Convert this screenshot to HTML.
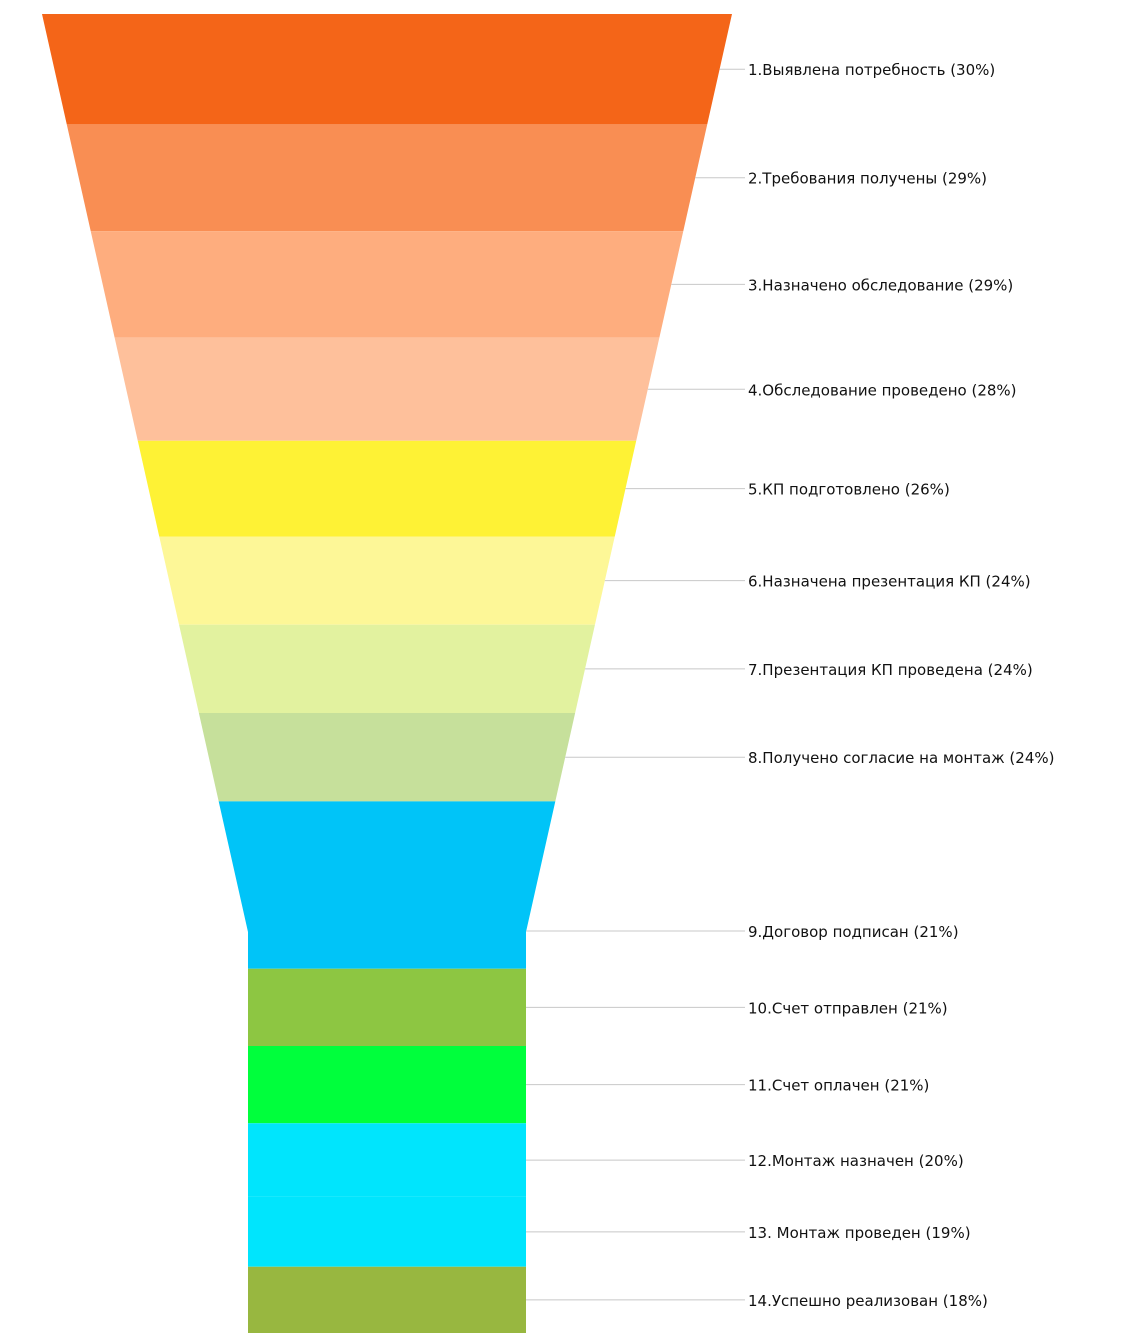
<!DOCTYPE html>
<html><head><meta charset="utf-8"><style>
html,body{margin:0;padding:0;background:#fff;}
svg{display:block;}
text{font-family:"DejaVu Sans","Liberation Sans",sans-serif;font-size:15px;fill:#111;}
</style></head><body>
<svg id="chart" width="1128" height="1342" xmlns="http://www.w3.org/2000/svg"></svg>
<script>
const stages = ["1.Выявлена потребность","2.Требования получены","3.Назначено обследование","4.Обследование проведено","5.КП подготовлено","6.Назначена презентация КП","7.Презентация КП проведена","8.Получено согласие на монтаж","9.Договор подписан","10.Счет отправлен","11.Счет оплачен","12.Монтаж назначен","13. Монтаж проведен","14.Успешно реализован"];
const percents = [30,29,29,28,26,24,24,24,21,21,21,20,19,18];
const values = [30,29,29,28,26,24,24,24,45.5,21,21,20,19,18];
const colors = ["#F46518","#F98E53","#FEAD7E","#FEC09B","#FEF235","#FDF797","#E2F29F","#C6E09B","#00C4F8","#8DC642","#00FF3C","#00E5FD","#00E5FD","#98B740"];

const NS="http://www.w3.org/2000/svg";
const svg=document.getElementById('chart');
const top0=14, bottom0=1333, topL=42, topR=732, neckL=248, neckR=526, neckY=932;
const total=values.reduce((a,b)=>a+b,0);
const yScale=v=>v/total*(bottom0-top0);
function leftAt(y){return y>=neckY?neckL:topL+(neckL-topL)*(y-top0)/(neckY-top0);}
function rightAt(y){return y>=neckY?neckR:topR-(topR-neckR)*(y-top0)/(neckY-top0);}
let y=top0;
values.forEach((v,i)=>{
  const y0=y, y1=y+yScale(v);
  let pts=[[leftAt(y0),y0],[rightAt(y0),y0]];
  if(y0<neckY&&y1>neckY){pts.push([neckR,neckY],[neckR,y1],[neckL,y1],[neckL,neckY]);}
  else pts.push([rightAt(y1),y1],[leftAt(y1),y1]);
  const p=document.createElementNS(NS,'polygon');
  p.setAttribute('points',pts.map(q=>q.join(',')).join(' '));
  p.setAttribute('fill',colors[i]);
  
  
  svg.appendChild(p);
  let ly=(y0+y1)/2;
  if(y0<neckY&&y1>neckY) ly=neckY-1;
  const ln=document.createElementNS(NS,'line');
  ln.setAttribute('x1',rightAt(ly));ln.setAttribute('x2',745);
  ln.setAttribute('y1',ly);ln.setAttribute('y2',ly);
  ln.setAttribute('stroke','#c8c8c8');ln.setAttribute('stroke-width','1');
  
  
  svg.appendChild(ln);
  const t=document.createElementNS(NS,'text');
  t.setAttribute('x',748);t.setAttribute('y',ly+6);
  t.textContent=stages[i]+' ('+percents[i]+'%)';
  
  
  svg.appendChild(t);
  y=y1;
});
</script>
</body></html>
